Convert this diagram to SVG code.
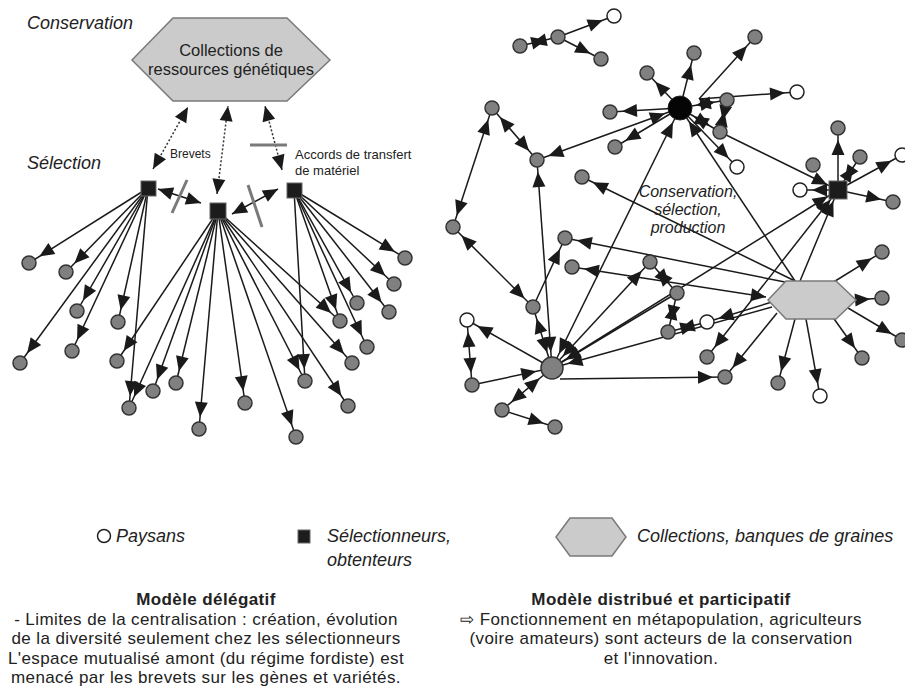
<svg xmlns="http://www.w3.org/2000/svg" width="905" height="687" viewBox="0 0 905 687">
<style>
.e{stroke:#1a1a1a;stroke-width:1.5;fill:none}
.d{stroke:#333;stroke-width:1.5;stroke-dasharray:2,2;fill:none}
.sl{stroke:#7a7a7a;stroke-width:3}
.g{fill:#808080;stroke:#333;stroke-width:1.5}
.o{fill:#fff;stroke:#222;stroke-width:1.5}
.sq{fill:#1c1c1c;stroke:#666;stroke-width:1}
.hex{fill:#cbcbcb;stroke:#7a7a7a;stroke-width:1.5}
text{font-family:"Liberation Sans",Arial,sans-serif;fill:#222}
.it{font-style:italic;font-size:18px}
.sm{font-size:13px}
.c{text-anchor:middle}
.b{font-weight:bold}
.t{font-size:17px;letter-spacing:0.4px}
</style>
<defs>
<marker id="m7" markerUnits="userSpaceOnUse" markerWidth="15" markerHeight="13" refX="27" refY="6.5" orient="auto-start-reverse" overflow="visible"><path d="M0,0 L15,6.5 L0,13 z" fill="#1a1a1a"/></marker>
<marker id="m12" markerUnits="userSpaceOnUse" markerWidth="15" markerHeight="13" refX="31" refY="6.5" orient="auto-start-reverse" overflow="visible"><path d="M0,0 L15,6.5 L0,13 z" fill="#1a1a1a"/></marker>
<marker id="m0" markerUnits="userSpaceOnUse" markerWidth="15" markerHeight="13" refX="15" refY="6.5" orient="auto-start-reverse" overflow="visible"><path d="M0,0 L15,6.5 L0,13 z" fill="#1a1a1a"/></marker>
</defs>
<rect width="905" height="687" fill="#fff"/>

<g id="connectors">
<!-- left model -->
<line class="d" x1="153" y1="169" x2="188" y2="107" marker-start="url(#m0)" marker-end="url(#m0)"/>
<line class="d" x1="217" y1="194" x2="228" y2="106" marker-start="url(#m0)" marker-end="url(#m0)"/>
<line class="d" x1="282" y1="170" x2="265" y2="106" marker-start="url(#m0)" marker-end="url(#m0)"/>
<line class="e" x1="158" y1="189" x2="201" y2="203" marker-start="url(#m0)" marker-end="url(#m0)"/>
<line class="e" x1="232" y1="214" x2="278" y2="189" marker-start="url(#m0)" marker-end="url(#m0)"/>
<line class="sl" x1="172" y1="213" x2="187" y2="180"/>
<line class="sl" x1="248" y1="185" x2="262" y2="227"/>
<line class="sl" x1="250" y1="145" x2="287" y2="145"/>
<g marker-end="url(#m7)">
<line class="e" x1="148" y1="188" x2="29" y2="263"/>
<line class="e" x1="148" y1="188" x2="66" y2="272"/>
<line class="e" x1="148" y1="188" x2="77" y2="311"/>
<line class="e" x1="148" y1="188" x2="118" y2="322"/>
<line class="e" x1="148" y1="188" x2="20" y2="363"/>
<line class="e" x1="148" y1="188" x2="72" y2="351"/>
<line class="e" x1="148" y1="188" x2="129" y2="408"/>
<line class="e" x1="218" y1="211" x2="117" y2="361"/>
<line class="e" x1="218" y1="211" x2="129" y2="408"/>
<line class="e" x1="218" y1="211" x2="153" y2="391"/>
<line class="e" x1="218" y1="211" x2="176" y2="383"/>
<line class="e" x1="218" y1="211" x2="199" y2="429"/>
<line class="e" x1="218" y1="211" x2="245" y2="403"/>
<line class="e" x1="218" y1="211" x2="296" y2="437"/>
<line class="e" x1="218" y1="211" x2="305" y2="381"/>
<line class="e" x1="218" y1="211" x2="348" y2="406"/>
<line class="e" x1="218" y1="211" x2="352" y2="363"/>
<line class="e" x1="218" y1="211" x2="340" y2="321"/>
<line class="e" x1="294" y1="190" x2="305" y2="381"/>
<line class="e" x1="294" y1="190" x2="367" y2="347"/>
<line class="e" x1="294" y1="190" x2="340" y2="321"/>
<line class="e" x1="294" y1="190" x2="357" y2="303"/>
<line class="e" x1="294" y1="190" x2="389" y2="312"/>
<line class="e" x1="294" y1="190" x2="394" y2="284"/>
<line class="e" x1="294" y1="190" x2="405" y2="258"/>
</g>
<!-- right model -->
<line class="e" x1="520" y1="46" x2="558" y2="37" marker-start="url(#m7)" marker-end="url(#m7)"/>
<line class="e" x1="558" y1="37" x2="614" y2="16" marker-end="url(#m7)"/>
<line class="e" x1="558" y1="37" x2="601" y2="59" marker-end="url(#m7)"/>
<line class="e" x1="680" y1="108" x2="647" y2="73" marker-end="url(#m7)"/>
<line class="e" x1="680" y1="108" x2="694" y2="53" marker-end="url(#m7)"/>
<line class="e" x1="699" y1="99" x2="755" y2="37" marker-end="url(#m7)"/>
<line class="e" x1="699" y1="99" x2="797" y2="92" marker-end="url(#m7)"/>
<line class="e" x1="680" y1="108" x2="610" y2="112" marker-end="url(#m7)"/>
<line class="e" x1="680" y1="108" x2="727" y2="100" marker-start="url(#m12)" marker-end="url(#m7)"/>
<line class="e" x1="727" y1="100" x2="720" y2="132" marker-start="url(#m7)" marker-end="url(#m7)"/>
<line class="e" x1="680" y1="108" x2="720" y2="132" marker-start="url(#m12)" marker-end="url(#m7)"/>
<line class="e" x1="680" y1="108" x2="737" y2="167" marker-end="url(#m7)"/>
<line class="e" x1="720" y1="132" x2="838" y2="190" marker-end="url(#m7)"/>
<line class="e" x1="680" y1="108" x2="615" y2="147" marker-end="url(#m7)"/>
<line class="e" x1="680" y1="108" x2="537" y2="160" marker-start="url(#m12)" marker-end="url(#m7)"/>
<line class="e" x1="552" y1="368" x2="680" y2="108" marker-start="url(#m12)" marker-end="url(#m12)"/>
<line class="e" x1="795" y1="281" x2="680" y2="108" marker-end="url(#m12)"/>
<line class="e" x1="795" y1="281" x2="582" y2="177" marker-end="url(#m7)"/>
<line class="e" x1="790" y1="283" x2="565" y2="238" marker-end="url(#m7)"/>
<line class="e" x1="572" y1="267" x2="766" y2="297" marker-start="url(#m7)" marker-end="url(#m0)"/>
<line class="e" x1="650" y1="262" x2="677" y2="293" marker-start="url(#m7)" marker-end="url(#m7)"/>
<line class="e" x1="552" y1="368" x2="650" y2="262" marker-start="url(#m12)" marker-end="url(#m7)"/>
<line class="e" x1="677" y1="293" x2="552" y2="368" marker-end="url(#m12)"/>
<line class="e" x1="772" y1="307" x2="552" y2="368" marker-end="url(#m12)"/>
<line class="e" x1="668" y1="332" x2="677" y2="293" marker-start="url(#m7)" marker-end="url(#m7)"/>
<line class="e" x1="668" y1="332" x2="707" y2="322" marker-start="url(#m7)" marker-end="url(#m7)"/>
<line class="e" x1="772" y1="302" x2="707" y2="322" marker-end="url(#m7)"/>
<line class="e" x1="552" y1="368" x2="467" y2="320" marker-end="url(#m7)"/>
<line class="e" x1="467" y1="320" x2="472" y2="385" marker-start="url(#m7)" marker-end="url(#m7)"/>
<line class="e" x1="472" y1="385" x2="552" y2="368" marker-end="url(#m12)"/>
<line class="e" x1="502" y1="410" x2="552" y2="368" marker-start="url(#m7)" marker-end="url(#m12)"/>
<line class="e" x1="502" y1="410" x2="555" y2="427" marker-end="url(#m7)"/>
<line class="e" x1="533" y1="307" x2="552" y2="368" marker-start="url(#m7)" marker-end="url(#m12)"/>
<line class="e" x1="537" y1="160" x2="552" y2="368" marker-start="url(#m7)" marker-end="url(#m12)"/>
<line class="e" x1="533" y1="307" x2="565" y2="238" marker-end="url(#m7)"/>
<line class="e" x1="453" y1="227" x2="533" y2="307" marker-start="url(#m7)" marker-end="url(#m7)"/>
<line class="e" x1="492" y1="108" x2="453" y2="227" marker-start="url(#m7)" marker-end="url(#m7)"/>
<line class="e" x1="492" y1="108" x2="537" y2="160" marker-start="url(#m7)" marker-end="url(#m7)"/>
<line class="e" x1="560" y1="379" x2="725" y2="377" marker-end="url(#m7)"/>
<line class="e" x1="777" y1="313" x2="725" y2="377" marker-end="url(#m7)"/>
<line class="e" x1="838" y1="190" x2="707" y2="357" marker-start="url(#m7)" marker-end="url(#m7)"/>
<line class="e" x1="552" y1="368" x2="838" y2="190" marker-end="url(#m7)"/>
<line class="e" x1="800" y1="281" x2="838" y2="190" marker-end="url(#m7)"/>
<line class="e" x1="838" y1="190" x2="838" y2="128" marker-end="url(#m7)"/>
<line class="e" x1="838" y1="190" x2="860" y2="157" marker-start="url(#m7)" marker-end="url(#m7)"/>
<line class="e" x1="838" y1="190" x2="902" y2="155" marker-end="url(#m7)"/>
<line class="e" x1="838" y1="190" x2="893" y2="202" marker-end="url(#m7)"/>
<line class="e" x1="838" y1="190" x2="800" y2="190" marker-end="url(#m7)"/>
<line class="e" x1="795" y1="319" x2="778" y2="383" marker-end="url(#m7)"/>
<line class="e" x1="806" y1="319" x2="820" y2="396" marker-end="url(#m7)"/>
<line class="e" x1="832" y1="316" x2="862" y2="358" marker-end="url(#m7)"/>
<line class="e" x1="848" y1="308" x2="902" y2="340" marker-end="url(#m7)"/>
<line class="e" x1="856" y1="300" x2="882" y2="298" marker-end="url(#m7)"/>
<line class="e" x1="832" y1="283" x2="882" y2="252" marker-end="url(#m7)"/>
</g>

<!-- left model nodes -->
<g id="collections-left"><polygon class="hex" points="132,60 173,18 287,18 330,60 287,101 173,101"/><text class="c" x="231" y="56" font-size="16.5">Collections de</text><text class="c" x="231" y="75" font-size="16.5">ressources génétiques</text></g>
<g id="label-conservation"><text class="it" x="27" y="29">Conservation</text></g>
<g id="label-selection"><text class="it" x="27" y="169">Sélection</text></g>
<g id="label-brevets"><text x="170" y="158" font-size="12">Brevets</text></g>
<g id="label-accords"><text class="sm" x="295" y="159">Accords de transfert</text><text class="sm" x="295" y="175">de matériel</text></g>
<g id="sel-left"><rect class="sq" x="141" y="181" width="15" height="15"/></g>
<g id="sel-mid"><rect class="sq" x="210" y="203" width="16" height="16"/></g>
<g id="sel-right"><rect class="sq" x="287" y="183" width="15" height="15"/></g>
<g id="l1"><circle class="g" cx="29" cy="263" r="7"/></g>
<g id="l2"><circle class="g" cx="66" cy="272" r="7"/></g>
<g id="l3"><circle class="g" cx="77" cy="311" r="7"/></g>
<g id="l4"><circle class="g" cx="118" cy="322" r="7"/></g>
<g id="l5"><circle class="g" cx="20" cy="363" r="7"/></g>
<g id="l6"><circle class="g" cx="72" cy="351" r="7"/></g>
<g id="l7"><circle class="g" cx="117" cy="361" r="7"/></g>
<g id="l8"><circle class="g" cx="129" cy="408" r="7"/></g>
<g id="l9"><circle class="g" cx="153" cy="391" r="7"/></g>
<g id="l10"><circle class="g" cx="176" cy="383" r="7"/></g>
<g id="l11"><circle class="g" cx="199" cy="429" r="7"/></g>
<g id="l12"><circle class="g" cx="245" cy="403" r="7"/></g>
<g id="l13"><circle class="g" cx="296" cy="437" r="7"/></g>
<g id="l14"><circle class="g" cx="305" cy="381" r="7"/></g>
<g id="l15"><circle class="g" cx="348" cy="406" r="7"/></g>
<g id="l16"><circle class="g" cx="352" cy="363" r="7"/></g>
<g id="l17"><circle class="g" cx="367" cy="347" r="7"/></g>
<g id="l18"><circle class="g" cx="340" cy="321" r="7"/></g>
<g id="l19"><circle class="g" cx="357" cy="303" r="7"/></g>
<g id="l20"><circle class="g" cx="389" cy="312" r="7"/></g>
<g id="l21"><circle class="g" cx="394" cy="284" r="7"/></g>
<g id="l22"><circle class="g" cx="405" cy="258" r="7"/></g>

<!-- right model nodes -->
<g id="r1"><circle class="o" cx="614" cy="16" r="7"/></g>
<g id="r2"><circle class="g" cx="520" cy="46" r="7"/></g>
<g id="r3"><circle class="g" cx="558" cy="37" r="7"/></g>
<g id="r4"><circle class="g" cx="601" cy="59" r="7"/></g>
<g id="n1"><circle class="g" cx="647" cy="73" r="7"/></g>
<g id="n2"><circle class="g" cx="694" cy="53" r="7"/></g>
<g id="n3"><circle class="g" cx="755" cy="37" r="7"/></g>
<g id="n4"><circle class="o" cx="797" cy="92" r="7"/></g>
<g id="hub-black"><circle cx="680" cy="108" r="12" fill="#050505" stroke="#222" stroke-width="1"/></g>
<g id="n5"><circle class="g" cx="610" cy="112" r="7"/></g>
<g id="n6"><circle class="g" cx="727" cy="100" r="7"/></g>
<g id="n7"><circle class="g" cx="720" cy="132" r="7"/></g>
<g id="n8"><circle class="o" cx="737" cy="167" r="7"/></g>
<g id="n9"><circle class="g" cx="615" cy="147" r="7"/></g>
<g id="n10"><circle class="g" cx="492" cy="108" r="7"/></g>
<g id="n11"><circle class="g" cx="537" cy="160" r="7"/></g>
<g id="n12"><circle class="g" cx="582" cy="177" r="7"/></g>
<g id="n13"><circle class="g" cx="838" cy="128" r="7"/></g>
<g id="n14"><circle class="g" cx="860" cy="157" r="7"/></g>
<g id="n15"><circle class="g" cx="813" cy="165" r="7"/></g>
<g id="sel-r"><rect class="sq" x="829" y="181" width="18" height="18"/></g>
<g id="n16"><circle class="o" cx="800" cy="190" r="7"/></g>
<g id="n17"><circle class="o" cx="902" cy="155" r="7"/></g>
<g id="n18"><circle class="g" cx="893" cy="202" r="7"/></g>
<g id="n19"><circle class="g" cx="453" cy="227" r="7"/></g>
<g id="n20"><circle class="g" cx="565" cy="238" r="7"/></g>
<g id="n21"><circle class="g" cx="572" cy="267" r="7"/></g>
<g id="n22"><circle class="g" cx="650" cy="262" r="7"/></g>
<g id="n23"><circle class="g" cx="677" cy="293" r="7"/></g>
<g id="n24"><circle class="g" cx="533" cy="307" r="7"/></g>
<g id="n25"><circle class="o" cx="467" cy="320" r="7"/></g>
<g id="hub-grey"><circle class="g" cx="552" cy="368" r="11"/></g>
<g id="n26"><circle class="g" cx="668" cy="332" r="7"/></g>
<g id="n27"><circle class="o" cx="707" cy="322" r="7"/></g>
<g id="n28"><circle class="g" cx="472" cy="385" r="7"/></g>
<g id="n29"><circle class="g" cx="502" cy="410" r="7"/></g>
<g id="n30"><circle class="g" cx="555" cy="427" r="7"/></g>
<g id="n31"><circle class="g" cx="707" cy="357" r="7"/></g>
<g id="n32"><circle class="g" cx="725" cy="377" r="7"/></g>
<g id="n33"><circle class="g" cx="778" cy="383" r="7"/></g>
<g id="n34"><circle class="o" cx="820" cy="396" r="7"/></g>
<g id="n35"><circle class="g" cx="862" cy="358" r="7"/></g>
<g id="n36"><circle class="g" cx="902" cy="340" r="7"/></g>
<g id="n37"><circle class="g" cx="882" cy="298" r="7"/></g>
<g id="n38"><circle class="g" cx="882" cy="252" r="7"/></g>
<g id="collections-right"><polygon class="hex" points="768,300 786,281 836,281 856,300 836,319 786,319"/></g>
<g id="label-csp"><text class="c" font-style="italic" font-size="16" x="688" y="197">Conservation,</text><text class="c" font-style="italic" font-size="16" x="688" y="215">sélection,</text><text class="c" font-style="italic" font-size="16" x="688" y="233">production</text></g>

<!-- legend -->
<g id="legend-paysans"><circle class="o" cx="104" cy="536" r="6.5"/><text class="it" x="116" y="542">Paysans</text></g>
<g id="legend-selectionneurs"><rect class="sq" x="298" y="530" width="12" height="13"/><text class="it" x="327" y="542">Sélectionneurs,</text><text class="it" x="327" y="566">obtenteurs</text></g>
<g id="legend-collections"><polygon class="hex" points="556,537 570,518 612,518 626,537 612,556 570,556"/><text class="it" x="637" y="542">Collections, banques de graines</text></g>

<!-- bottom texts -->
<g id="text-delegatif">
<text class="t c b" x="206" y="605">Modèle délégatif</text>
<text class="t c" x="206" y="624.5">- Limites de la centralisation : création, évolution</text>
<text class="t c" x="206" y="644">de la diversité seulement chez les sélectionneurs</text>
<text class="t c" x="206" y="663.5">L'espace mutualisé amont (du régime fordiste) est</text>
<text class="t c" x="206" y="683">menacé par les brevets sur les gènes et variétés.</text>
</g>
<g id="text-distribue">
<text class="t c b" x="661" y="605">Modèle distribué et participatif</text>
<text class="t c" x="661" y="624.5">⇨ Fonctionnement en métapopulation, agriculteurs</text>
<text class="t c" x="661" y="644">(voire amateurs) sont acteurs de la conservation</text>
<text class="t c" x="661" y="663.5">et l'innovation.</text>
</g>
</svg>
